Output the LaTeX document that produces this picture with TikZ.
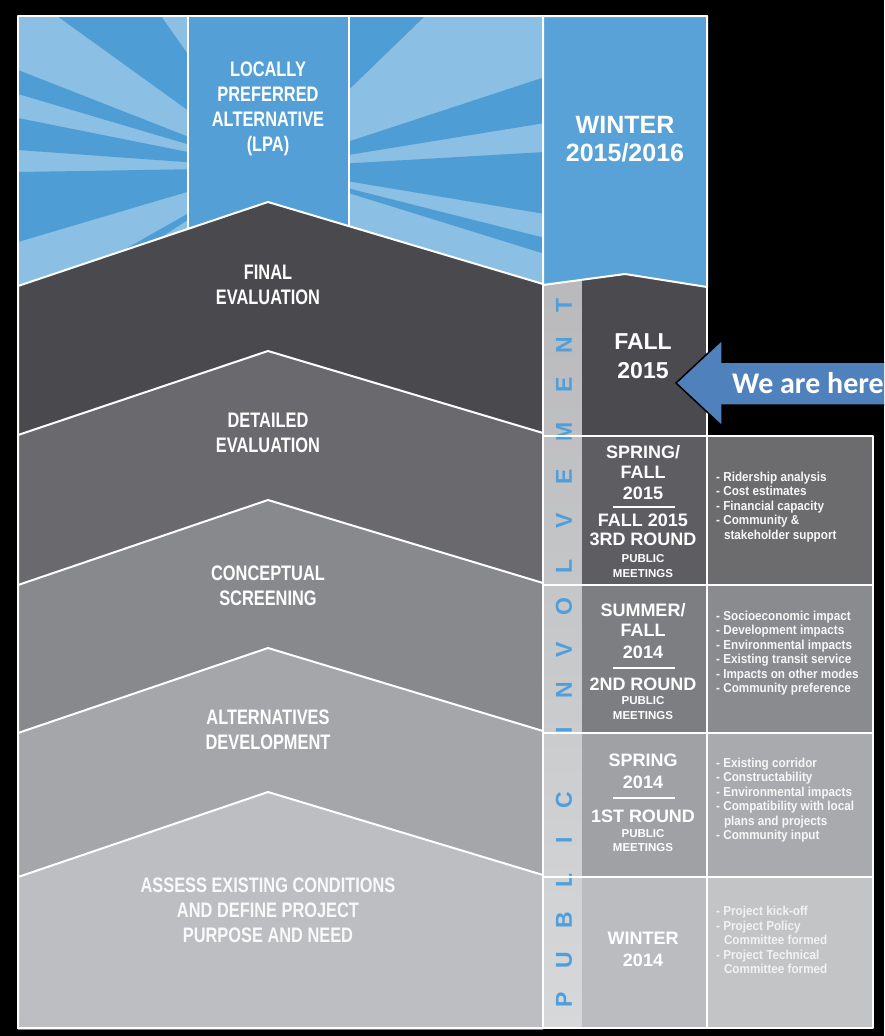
\documentclass[tikz,border=0pt]{standalone}
\usepackage{fontspec}
\setmainfont{Liberation Sans}
\newfontfamily\condf[FakeStretch=0.78]{Liberation Sans}
\newfontfamily\semif[FakeStretch=0.9]{Liberation Sans}
\newfontfamily\calib{Carlito}
\definecolor{bdark}{HTML}{4E9DD5}
\definecolor{blight}{HTML}{8BBFE4}
\definecolor{lpa}{HTML}{539FD6}
\definecolor{wbox}{HTML}{58A2D7}
\definecolor{cA}{HTML}{4A4A4E}
\definecolor{cB}{HTML}{6A6A6E}
\definecolor{cC}{HTML}{88898C}
\definecolor{cD}{HTML}{A4A6A9}
\definecolor{cE}{HTML}{BCBEC1}
\definecolor{mA}{HTML}{4B4B4F}
\definecolor{mB}{HTML}{5E5E62}
\definecolor{mC}{HTML}{7D7E81}
\definecolor{mD}{HTML}{9FA1A4}
\definecolor{mE}{HTML}{BABCBF}
\definecolor{rB}{HTML}{6C6C6F}
\definecolor{rC}{HTML}{8A8B8E}
\definecolor{rD}{HTML}{A8AAAD}
\definecolor{rE}{HTML}{C2C4C6}
\definecolor{stripT}{HTML}{B9B9BB}
\definecolor{stripB}{HTML}{D6D8DA}
\definecolor{letblue}{HTML}{4F9FDC}
\definecolor{arrowblue}{HTML}{4F81BD}
\begin{document}
\begin{tikzpicture}[x=1pt,y=-1pt,
  wline/.style={draw=white,line width=2pt,line join=round},
  phase/.style={font=\condf\bfseries\fontsize{21}{25}\selectfont,text=white,align=center,inner sep=0pt},
  yrA/.style={font=\bfseries\fontsize{25}{28}\selectfont,text=white,text height=17.9pt,text depth=0pt,inner sep=0pt},
  yrB/.style={font=\bfseries\fontsize{23}{26}\selectfont,text=white,text height=16.5pt,text depth=0pt,inner sep=0pt},
  yrC/.style={font=\bfseries\fontsize{18}{20}\selectfont,text=white,text height=12.9pt,text depth=0pt,inner sep=0pt},
  pubm/.style={font=\bfseries\fontsize{11.5}{13}\selectfont,text=white,text height=8.2pt,text depth=0pt,inner sep=0pt},
  desc/.style={font=\semif\bfseries\fontsize{13}{14.5}\selectfont,text=white!94!gray,align=left,anchor=west,inner sep=0pt},
  vlet/.style={font=\bfseries\fontsize{23}{23}\selectfont,text=letblue,rotate=90,inner sep=0pt,text height=16.5pt,text depth=0pt},
  sepline/.style={draw=white,line width=1.2pt}
]
\useasboundingbox (0,0) rectangle (884,1036);
\clip (0,0) rectangle (884,1036);
\fill[black] (0,0) rectangle (884,1036);

% ---- rays
\begin{scope}
  \clip (18,16) rectangle (543,300);
  \fill[blight] (18,16) rectangle (543,300);
  \coordinate (C) at (268,168);
  \fill[bdark] (C) -- (57,16) -- (161,16) -- cycle;
  \fill[bdark] (C) -- (18,70) -- (18,94) -- cycle;
  \fill[bdark] (C) -- (18,118) -- (18,150) -- cycle;
  \fill[bdark] (C) -- (18,172) -- (18,242) -- cycle;
  \fill[bdark] (C) -- (18,310) -- (18,330) -- cycle;
  \fill[bdark] (C) -- (350,16) -- (425,16) -- cycle;
  \fill[bdark] (C) -- (545,77) -- (545,123) -- cycle;
  \fill[bdark] (C) -- (545,152) -- (545,214) -- cycle;
  \fill[bdark] (C) -- (545,238) -- (545,254) -- cycle;
\end{scope}
% LPA column
\fill[lpa] (188,16) rectangle (349,240);
\draw[wline] (188,16) -- (188,240);
\draw[wline] (349,16) -- (349,240);

% ---- chevron bands
\filldraw[fill=cA,wline] (18,286) -- (268,202) -- (543,284) -- (543,1028) -- (18,1028) -- cycle;
\filldraw[fill=cB,wline] (18,435) -- (268,351) -- (543,433) -- (543,1028) -- (18,1028) -- cycle;
\filldraw[fill=cC,wline] (18,585) -- (268,500) -- (543,583) -- (543,1028) -- (18,1028) -- cycle;
\filldraw[fill=cD,wline] (18,733) -- (268,648) -- (543,731) -- (543,1028) -- (18,1028) -- cycle;
\filldraw[fill=cE,wline] (18,877) -- (268,792) -- (543,875) -- (543,1028) -- (18,1028) -- cycle;

% ---- phase labels
\node[phase] (lpaT) at (268,109) {LOCALLY\\PREFERRED\\ALTERNATIVE\\(LPA)};
\node[phase] (finT) at (268,285) {FINAL\\EVALUATION};
\node[phase] (detT) at (268,433) {DETAILED\\EVALUATION};
\node[phase] (conT) at (268,586) {CONCEPTUAL\\SCREENING};
\node[phase] (altT) at (268,730) {ALTERNATIVES\\DEVELOPMENT};
\node[phase,text=white!95!gray] (assT) at (268,910) {ASSESS EXISTING CONDITIONS\\AND DEFINE PROJECT\\PURPOSE AND NEED};

% ---- middle column
\shade[top color=stripT,bottom color=stripB] (544,272) rectangle (582,1028);
\fill[mA] (582,272) rectangle (707,436);
\fill[mB] (582,436) rectangle (707,585);
\fill[mC] (582,585) rectangle (707,733);
\fill[mD] (582,733) rectangle (707,877);
\fill[mE] (582,877) rectangle (707,1028);
% right column
\fill[rB] (707,436) rectangle (873,585);
\fill[rC] (707,585) rectangle (873,733);
\fill[rD] (707,733) rectangle (873,877);
\fill[rE] (707,877) rectangle (873,1028);

% strip letters
\foreach \l/\yy [count=\i] in {P/1000,U/960,B/920,L/880,I/840,C/800,I/730,N/690,V/650,O/607,L/566,V/521,E/477,M/432,E/385,N/345,T/305}
  \node[vlet] (let\i) at (563.5,\yy) {\l};

% row lines
\draw[wline] (543,436) -- (873,436);
\draw[wline] (543,585) -- (873,585);
\draw[wline] (543,733) -- (873,733);
\draw[wline] (543,877) -- (873,877);

% blue box
\filldraw[fill=wbox,wline] (543,16) -- (707,16) -- (707,287) -- (625,274) -- (543,285) -- cycle;
\node[yrA] (w1) at (625,125) {WINTER};
\node[yrA] (w2) at (625,153) {2015/2016};

% fall 2015
\node[yrB] (f1) at (643,341) {FALL};
\node[yrB] (f2) at (643,370) {2015};

% spring/fall 2015
\node[yrC] (s1) at (643,452) {SPRING/};
\node[yrC] (s2) at (643,472) {FALL};
\node[yrC] (s3) at (643,493) {2015};
\draw[sepline] (613,507) -- (675,507);
\node[yrC] (s4) at (643,520) {FALL 2015};
\node[yrC] (s5) at (643,539) {3RD ROUND};
\node[pubm] (s6) at (643,558) {PUBLIC};
\node[pubm] (s7) at (643,573) {MEETINGS};
\node[desc] (d1) at (716,507) {- Ridership analysis\\- Cost estimates\\- Financial capacity\\- Community \&\\\hspace*{0.6em}stakeholder support};

% summer/fall 2014
\node[yrC] (u1) at (643,610) {SUMMER/};
\node[yrC] (u2) at (643,630) {FALL};
\node[yrC] (u3) at (643,652) {2014};
\draw[sepline] (613,668) -- (675,668);
\node[yrC] (u4) at (643,684) {2ND ROUND};
\node[pubm] (u5) at (643,700) {PUBLIC};
\node[pubm] (u6) at (643,715) {MEETINGS};
\node[desc] (d2) at (716,653) {- Socioeconomic impact\\- Development impacts\\- Environmental impacts\\- Existing transit service\\- Impacts on other modes\\- Community preference};

% spring 2014
\node[yrC] (p1) at (643,760) {SPRING};
\node[yrC] (p2) at (643,782) {2014};
\draw[sepline] (613,798) -- (675,798);
\node[yrC] (p3) at (643,816) {1ST ROUND};
\node[pubm] (p4) at (643,833) {PUBLIC};
\node[pubm] (p5) at (643,847) {MEETINGS};
\node[desc] (d3) at (716,800) {- Existing corridor\\- Constructability\\- Environmental impacts\\- Compatibility with local\\\hspace*{0.6em}plans and projects\\- Community input};

% winter 2014
\node[yrC] (q1) at (643,938) {WINTER};
\node[yrC] (q2) at (643,960) {2014};
\node[desc,text=white!90!gray] (d4) at (716,940) {- Project kick-off\\- Project Policy\\\hspace*{0.6em}Committee formed\\- Project Technical\\\hspace*{0.6em}Committee formed};

% frames
\draw[wline] (18,16) rectangle (707,1028);
\draw[wline] (543,16) -- (543,1028);
\draw[wline] (707,436) rectangle (873,1028);

% arrow
\filldraw[fill=arrowblue,draw=black,line width=1.5pt,line join=miter]
  (676,383) -- (722,340) -- (722,362) -- (900,362) -- (900,405) -- (722,405) -- (722,426) -- cycle;
\node[font=\calib\bfseries\fontsize{30}{32}\selectfont,text=white,anchor=base west,inner sep=0pt] (here) at (732,393) {We are here};
\end{tikzpicture}
\end{document}
